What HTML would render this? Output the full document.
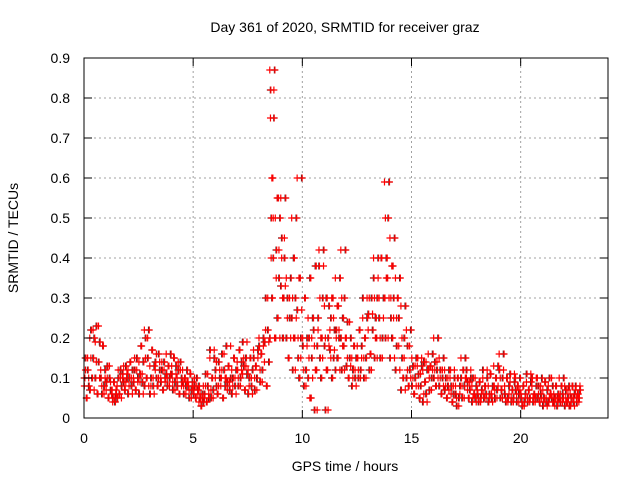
<!DOCTYPE html>
<html><head><meta charset="utf-8"><style>
body{margin:0;background:#fff}
svg{display:block;font-family:"Liberation Sans",sans-serif}
</style></head><body>
<svg id="chart" width="640" height="480">
<rect width="640" height="480" fill="#fff"/>
<text x="345" y="32" font-size="14" text-anchor="middle">Day 361 of 2020, SRMTID for receiver graz</text>
<g id="grid"></g>
<g id="black"></g>
<g id="red"></g>
<rect x="84" y="58" width="524" height="360" fill="none" stroke="#000"/>
<g id="axes"></g>
<text x="345" y="471" font-size="14" text-anchor="middle">GPS time / hours</text>
<text transform="translate(18,238) rotate(-90)" font-size="14" text-anchor="middle">SRMTID / TECUs</text>
</svg>
<script>
const xTicks=[0,5,10,15,20];
const yTicks=[0,0.1,0.2,0.3,0.4,0.5,0.6,0.7,0.8,0.9];
const bucketHours=0.25;
const redBuckets=[
[.08,.12,.05,.15,.1],[.2,.15,.1,.22,.07],[.19,.14,.06,.23,.1],[.12,.08,.18,.06,.1],
[.07,.1,.05,.13,.09],[.06,.04,.09,.05,.07],[.08,.12,.06,.1,.05],[.1,.13,.07,.09,.11],
[.12,.08,.14,.1,.06],[.1,.15,.07,.12,.09],[.14,.09,.18,.11,.06],[.22,.15,.1,.2,.08],
[.13,.08,.17,.1,.06],[.12,.16,.08,.1,.14],[.1,.14,.07,.12,.09],[.16,.1,.13,.08,.11],
[.13,.09,.15,.07,.11],[.1,.14,.06,.12,.08],[.12,.08,.1,.06,.09],[.09,.07,.11,.05,.08],
[.07,.1,.05,.08,.06],[.04,.06,.03,.05,.08],[.05,.08,.04,.11,.06],[.15,.07,.1,.05,.17],
[.1,.14,.06,.08,.12],[.08,.12,.05,.16,.1],[.1,.07,.13,.09,.18],[.12,.08,.15,.1,.06],
[.14,.1,.17,.08,.12],[.11,.15,.07,.13,.19],[.12,.08,.15,.1,.06],[.17,.1,.13,.07,.15],
[.2,.12,.16,.09,.18],[.14,.22,.08,.3,.19],[.87,.75,.4,.6,.3,.5,.82,.2],[.5,.35,.55,.25,.42,.2],
[.55,.4,.3,.2,.45,.33],[.35,.25,.15,.3,.2],[.5,.3,.2,.4,.12,.25],[.6,.2,.35,.1,.15,.27],
[.2,.12,.3,.08,.18],[.25,.15,.05,.35,.2,.1],[.25,.18,.12,.38,.02,.22],[.42,.3,.2,.1,.15,.38],
[.28,.2,.12,.3,.02,.18],[.22,.15,.3,.1,.25,.17],[.35,.2,.28,.15,.22,.12],[.42,.3,.18,.25,.12,.2],
[.2,.15,.1,.24,.13],[.15,.1,.18,.12,.08],[.18,.12,.22,.1,.15],[.25,.15,.2,.1,.3],
[.22,.3,.16,.12,.26],[.4,.3,.2,.25,.15,.35],[.3,.2,.4,.15,.25],[.59,.5,.35,.4,.2,.3],
[.45,.3,.38,.2,.25,.15],[.35,.25,.3,.18,.12],[.28,.2,.1,.15,.07],[.22,.12,.08,.18,.1],
[.15,.1,.06,.13,.08],[.13,.08,.05,.11,.15],[.12,.06,.09,.14,.04],[.16,.1,.13,.07,.12],
[.2,.12,.08,.14,.1],[.15,.1,.06,.12,.08],[.12,.08,.05,.1,.07],[.1,.06,.04,.08,.12],
[.08,.05,.1,.03,.06],[.15,.08,.12,.05,.1],[.1,.07,.05,.09,.12],[.08,.05,.06,.1,.04],
[.07,.05,.09,.04,.06],[.1,.06,.08,.05,.12],[.08,.05,.11,.06,.04],[.13,.07,.1,.05,.08],
[.16,.1,.07,.05,.12],[.08,.05,.1,.04,.06],[.09,.05,.07,.04,.11],[.1,.06,.08,.04,.07],
[.06,.04,.08,.03,.05],[.09,.05,.07,.04,.11],[.08,.05,.06,.04,.1],[.1,.06,.04,.08,.05],
[.07,.04,.09,.05,.03],[.08,.05,.06,.1,.04],[.06,.03,.08,.05,.04],[.1,.06,.08,.04,.05],
[.08,.05,.04,.07,.03],[.06,.04,.08,.05,.03],[.07,.05,.06,.04,.08]
];
const blackBuckets=redBuckets.map(b=>b.slice().reverse());
const NS="http://www.w3.org/2000/svg";
const X0=84,X1=608,Y0=418,Y1=58,XMAX=24,YMAX=0.9;
function xs(h){return X0+h/XMAX*(X1-X0);}
function ys(v){return Y0-v/YMAX*(Y0-Y1);}
function mk(tag,attrs,parent){const e=document.createElementNS(NS,tag);for(const k in attrs)e.setAttribute(k,attrs[k]);parent.appendChild(e);return e;}
const grid=document.getElementById('grid'),axes=document.getElementById('axes');
yTicks.forEach(v=>{const y=ys(v);
 if(v>0&&v<YMAX){const l=mk('line',{x1:X0,x2:X1,y1:y,y2:y,stroke:'#a0a0a0','stroke-dasharray':'2,3'},grid);
 
 }
 mk('line',{x1:X0,x2:X0+8,y1:y,y2:y,stroke:'#000'},axes);
 mk('line',{x1:X1,x2:X1-8,y1:y,y2:y,stroke:'#000'},axes);
 const t=mk('text',{x:X0-14,y:y+5,'font-size':14,'text-anchor':'end'},axes);t.textContent=v===0?'0':v.toFixed(1);
 
 
});
xTicks.forEach(h=>{const x=xs(h);
 if(h>0){const l=mk('line',{x1:x,x2:x,y1:Y0,y2:Y1,stroke:'#a0a0a0','stroke-dasharray':'2,3'},grid);
 
 }
 mk('line',{x1:x,x2:x,y1:Y0,y2:Y0-8,stroke:'#000'},axes);
 mk('line',{x1:x,x2:x,y1:Y1,y2:Y1+8,stroke:'#000'},axes);
 const t=mk('text',{x:x,y:Y0+25,'font-size':14,'text-anchor':'middle'},axes);t.textContent=String(h);
 
 
});
function drawSeries(buckets,g,color,off){
 let d='';
 buckets.forEach((b,i)=>{b.forEach((v,j)=>{
  const h=i*bucketHours+(j+off)/b.length*bucketHours;
  const x=xs(h),y=ys(v);
  d+=`M${x-3.5},${y}h7M${x},${y-3.5}v7`;
 });});
 const p=mk('path',{d:d,stroke:color,'stroke-width':1.2,fill:'none'},g);
 
 
}
drawSeries(blackBuckets,document.getElementById('black'),'#333',0.1);
drawSeries(redBuckets,document.getElementById('red'),'#f00',0.3);
drawSeries(redBuckets.map(b=>b.slice().reverse()),document.getElementById('red'),'#f00',0.8);
</script>
</body></html>
